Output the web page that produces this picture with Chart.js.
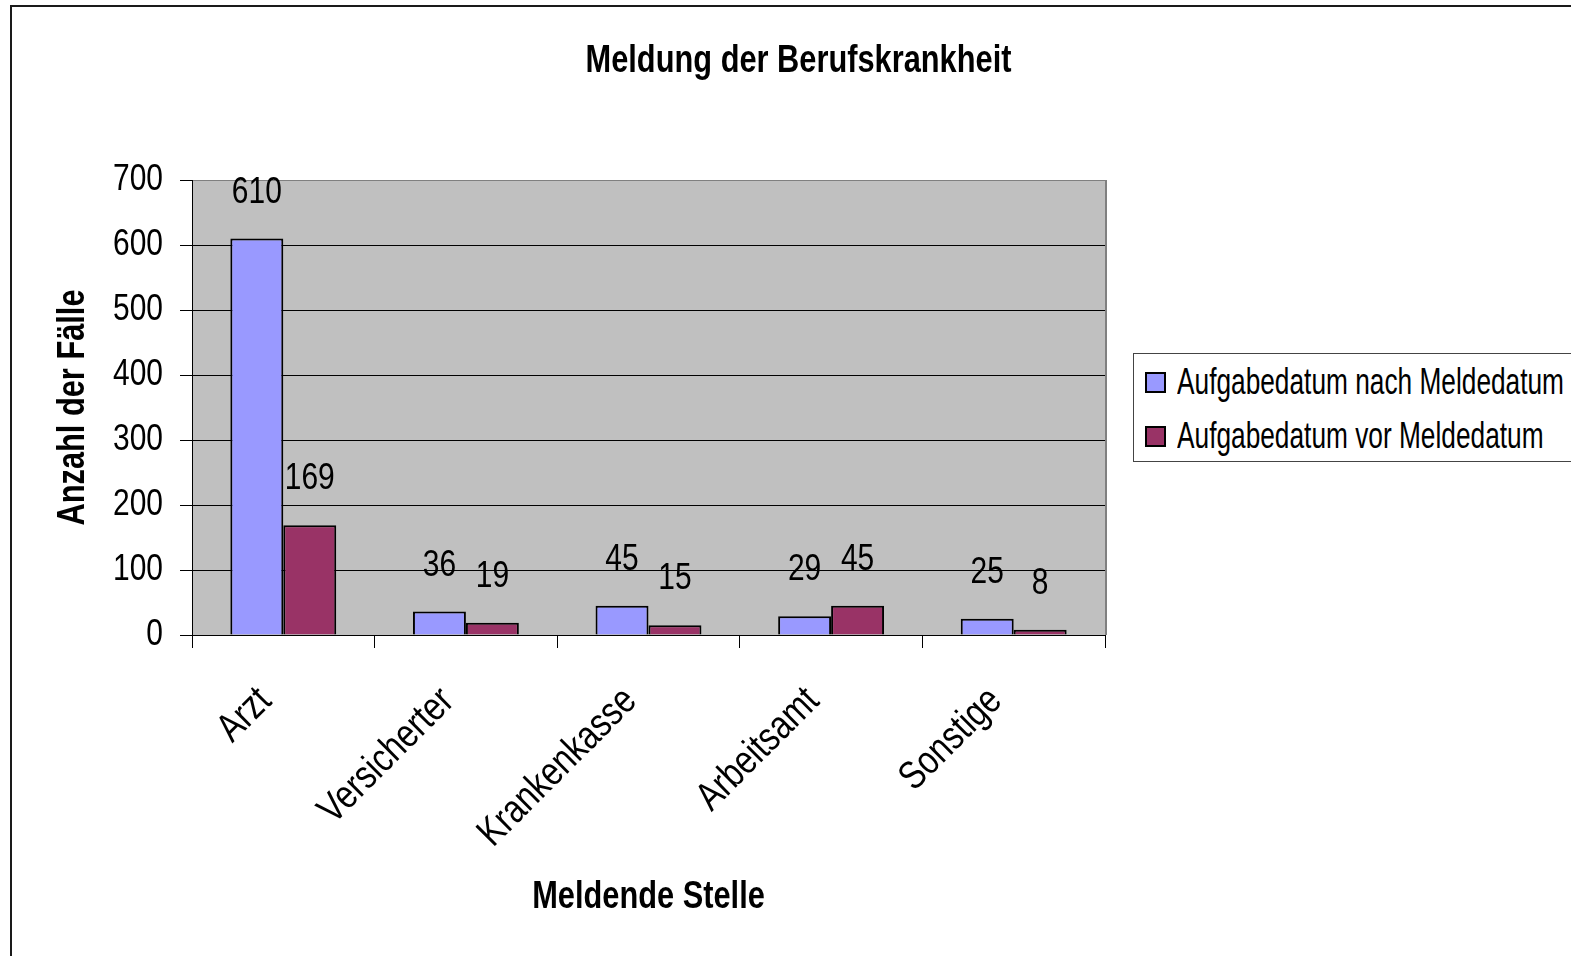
<!DOCTYPE html>
<html><head><meta charset="utf-8">
<script src="https://cdn.jsdelivr.net/npm/chart.js@4/dist/chart.umd.min.js"></script>
<style>
html,body{margin:0;padding:0;background:#fff;overflow:hidden;width:1571px;height:956px}
#frame{position:absolute;left:10px;top:5px;width:1700px;height:1100px;border-left:2px solid #1a1a1a;border-top:2px solid #1a1a1a;box-sizing:border-box}
#wrap{position:absolute;left:0;top:0;width:1571px;height:956px}
#legend{position:absolute;left:1133px;top:353px;width:520px;height:109px;border:1px solid #444;background:#fff;box-sizing:border-box}
.item{position:absolute;left:11px;height:40px;display:flex;align-items:center;white-space:nowrap}
.sw{width:21px;height:21px;border:2px solid #000;box-sizing:border-box;margin-right:11px;flex:none}
.lt{font-family:'Liberation Sans',Arial,sans-serif;font-size:37px;color:#000;transform:scaleX(0.71);transform-origin:left center;display:inline-block}
</style>
</head><body>
<div id="frame"></div>
<div id="wrap"><canvas id="c" width="1571" height="956"></canvas></div>
<div id="legend"></div>
<script>
const categories = ['Arzt', 'Versicherter', 'Krankenkasse', 'Arbeitsamt', 'Sonstige'];
const seriesNames = ['Aufgabedatum nach Meldedatum', 'Aufgabedatum vor Meldedatum'];
const nachValues = [610, 36, 45, 29, 25];
const vorValues = [169, 19, 15, 45, 8];
const seriesColors = ['#9999ff', '#993366'];
const yMin = 0, yMax = 700, yStep = 100;
const chartTitle = 'Meldung der Berufskrankheit';
const xTitle = 'Meldende Stelle';
const yTitle = 'Anzahl der Fälle';

const FONT = "'Liberation Sans', Arial, sans-serif";
const NARROW_SCALE = 0.81;

// Draw canvas text horizontally condensed (Arial Narrow look)
const canvas = document.getElementById('c');
const c2d = canvas.getContext('2d');
const origFillText = c2d.fillText;
c2d.fillText = function (text, x, y, maxWidth) {
  this.save();
  this.translate(x, y);
  this.scale(NARROW_SCALE, 1);
  if (maxWidth === undefined) origFillText.call(this, text, 0, 0);
  else origFillText.call(this, text, 0, 0, maxWidth / NARROW_SCALE);
  this.restore();
};

const plotBg = {
  id: 'plotBg',
  beforeDraw(chart) {
    const {ctx, chartArea: a} = chart;
    ctx.save();
    ctx.fillStyle = '#c0c0c0';
    ctx.fillRect(a.left, a.top, a.right - a.left, a.bottom - a.top);
    ctx.restore();
  },
  afterDraw(chart) {
    const {ctx, chartArea: a} = chart;
    ctx.save();
    ctx.strokeStyle = '#808080';
    ctx.lineWidth = 2;
    ctx.beginPath();
    ctx.moveTo(a.right + 1, a.top);
    ctx.lineTo(a.right + 1, a.bottom);
    ctx.stroke();
    ctx.restore();
  },
  afterLayout(chart) {
    if (chart.titleBlock) { chart.titleBlock.left = 26; chart.titleBlock.right = 1571; }
  }
};

const valueLabels = {
  id: 'valueLabels',
  afterDatasetsDraw(chart) {
    const ctx = chart.ctx;
    ctx.save();
    ctx.font = '37px ' + FONT;
    ctx.fillStyle = '#000';
    ctx.textAlign = 'center';
    ctx.textBaseline = 'middle';
    chart.data.datasets.forEach((ds, i) => {
      chart.getDatasetMeta(i).data.forEach((bar, j) => {
        ctx.fillText(String(ds.data[j]), bar.x, bar.y - 46);
      });
    });
    ctx.restore();
  }
};

const titleFont = {family: FONT, size: 38, weight: 'bold', lineHeight: 1.2};

new Chart(canvas, {
  type: 'bar',
  data: {
    labels: categories,
    datasets: [
      {label: seriesNames[0], data: nachValues, backgroundColor: seriesColors[0], borderColor: '#000', borderWidth: 2},
      {label: seriesNames[1], data: vorValues, backgroundColor: seriesColors[1], borderColor: '#000', borderWidth: 2}
    ]
  },
  options: {
    responsive: false,
    animation: false,
    datasets: {bar: {categoryPercentage: 0.58, barPercentage: 1.0}},
    layout: {padding: {left: 25, right: 466, top: 0, bottom: 0}},
    plugins: {
      legend: {display: false},
      tooltip: {enabled: false},
      title: {display: true, text: chartTitle, color: '#000', font: titleFont, padding: {top: 39.2, bottom: 95.2}}
    },
    scales: {
      x: {
        grid: {display: true, drawOnChartArea: false, drawTicks: true, tickLength: 13, color: '#000', offset: true},
        border: {display: true, color: '#000', width: 1},
        ticks: {color: '#000', font: {family: FONT, size: 40}, minRotation: 45, maxRotation: 45, autoSkip: false, padding: 30, labelOffset: -18},
        title: {display: true, text: xTitle, color: '#000', font: titleFont, padding: {top: 0, bottom: 36}},
        afterFit(s) { s.height = 321; }
      },
      y: {
        min: yMin, max: yMax,
        ticks: {stepSize: yStep, color: '#000', font: {family: FONT, size: 37}, padding: 17},
        grid: {color: c => (c.tick && c.tick.value === yMax) ? '#808080' : '#000', tickColor: '#000', tickLength: 12, lineWidth: 1},
        border: {display: true, color: '#000', width: 1},
        title: {display: true, text: yTitle, color: '#000', font: titleFont, padding: {top: 26, bottom: 0}},
        afterFit(s) { s.width = 167; }
      }
    }
  },
  plugins: [plotBg, valueLabels]
});

const legendEl = document.getElementById('legend');
seriesNames.forEach((name, i) => {
  const it = document.createElement('div');
  it.className = 'item';
  it.style.top = (i === 0 ? 8 : 62) + 'px';
  const sw = document.createElement('span');
  sw.className = 'sw';
  sw.style.background = seriesColors[i];
  const t = document.createElement('span');
  t.className = 'lt';
  t.textContent = name;
  it.appendChild(sw); it.appendChild(t);
  legendEl.appendChild(it);
});
</script>
</body></html>
